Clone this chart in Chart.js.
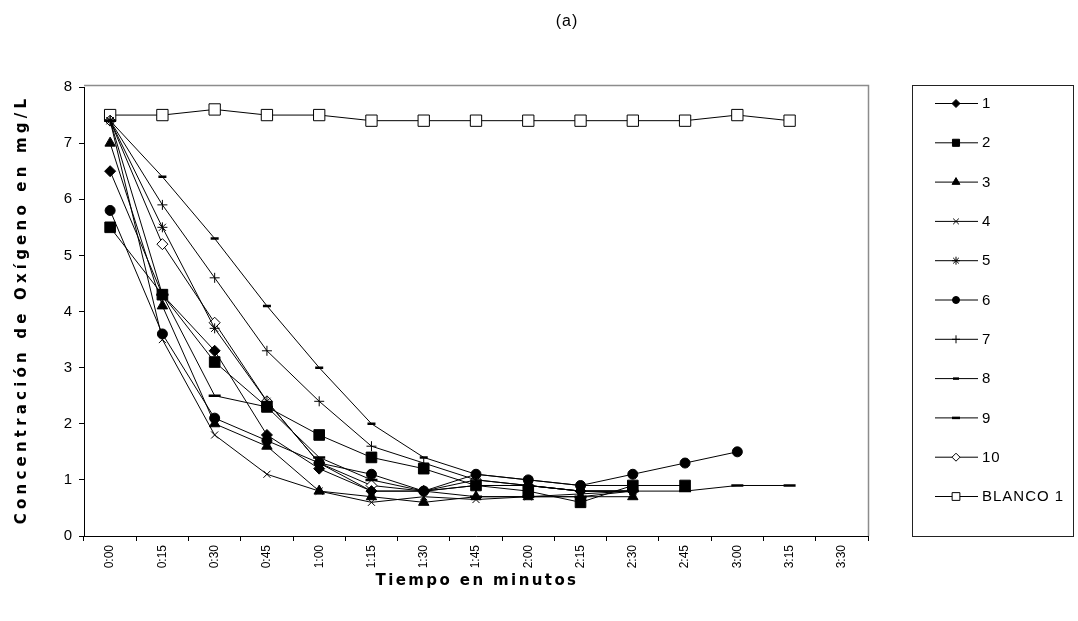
<!DOCTYPE html>
<html>
<head>
<meta charset="utf-8">
<script src="https://cdn.jsdelivr.net/npm/chart.js@4"></script>
<style>
  html, body { margin: 0; padding: 0; background: #fff; }
  #wrap { width: 1078px; height: 621px; position: relative; }
</style>
</head>
<body>
<div id="wrap"><canvas id="chart" width="1078" height="621"></canvas></div>
<script>
// tiempos (categorias del eje x)
const tiempos = ['0:00', '0:15', '0:30', '0:45', '1:00', '1:15', '1:30', '1:45',
  '2:00', '2:15', '2:30', '2:45', '3:00', '3:15', '3:30'];

// concentracion de oxigeno, mg/L
const serie1 = [6.5, 4.3, 3.3, 1.8, 1.2, 0.8, 0.8, 0.9, 0.9, 0.8, 0.8];
const serie2 = [5.5, 4.3, 3.1, 2.3, 1.8, 1.4, 1.2, 0.9, 0.8, 0.6, 0.9, 0.9];
const serie3 = [7.0, 4.1, 2.0, 1.6, 0.8, 0.7, 0.6, 0.7, 0.7, 0.7, 0.7];
const serie4 = [7.4, 3.5, 1.8, 1.1, 0.8, 0.6, 0.7, 0.65, 0.7, 0.75, 0.8];
const serie5 = [7.4, 5.5, 3.7, 2.4, 1.3, 0.8, 0.8, 0.9, 0.9, 0.8, 0.8];
const serie6 = [5.8, 3.6, 2.1, 1.7, 1.3, 1.1, 0.8, 1.1, 1.0, 0.9, 1.1, 1.3, 1.5];
const serie7 = [7.4, 5.9, 4.6, 3.3, 2.4, 1.6, 1.3, 1.0, 0.9, 0.8, 0.8];
const serie8 = [7.4, 6.4, 5.3, 4.1, 3.0, 2.0, 1.4, 1.1, 1.0, 0.9, 0.9];
const serie9 = [7.4, 4.3, 2.5, 2.3, 1.4, 1.0, 0.8, 0.7, 0.7, 0.7, 0.8, 0.8, 0.9, 0.9];
const serie10 = [7.4, 5.2, 3.8, 2.4, 1.3, 0.9, 0.8, 1.0, 0.9, 0.8, 0.8];
const blanco1 = [7.5, 7.5, 7.6, 7.5, 7.5, 7.4, 7.4, 7.4, 7.4, 7.4, 7.4, 7.4, 7.5, 7.4];

const yTicks = [0, 1, 2, 3, 4, 5, 6, 7, 8];

const FONT = "'Liberation Sans', Arial, sans-serif";
const TITLE_FONT = "'DejaVu Sans', Verdana, sans-serif";

function serie(label, data, style, radius, fill, legendRadius, bw) {
  return {
    label: label,
    data: data,
    borderColor: '#000',
    borderWidth: 1,
    tension: 0,
    fill: false,
    pointStyle: style,
    pointRadius: radius,
    pointBackgroundColor: fill,
    pointBorderColor: '#000',
    pointBorderWidth: bw || 1,
    legendRadius: legendRadius
  };
}

const datasets = [
  serie('1', serie1, 'rectRot', 5.5, '#000', 4),
  serie('2', serie2, 'rect', 7.5, '#000', 5),
  serie('3', serie3, 'triangle', 6, '#000', 4.5),
  serie('4', serie4, 'crossRot', 5, '#000', 4),
  serie('5', serie5, 'star', 5, '#000', 4),
  serie('6', serie6, 'circle', 5, '#000', 3.5),
  serie('7', serie7, 'cross', 5, '#000', 4),
  serie('8', serie8, 'line', 4, '#000', 3, 2.5),
  serie('9', serie9, 'line', 6, '#000', 4, 2.5),
  serie('10', serie10, 'rectRot', 5.5, '#fff', 4),
  serie('BLANCO 1', blanco1, 'rect', 8, '#fff', 5.5)
];

// leyenda, titulos y marco al estilo Excel
const excelLook = {
  id: 'excelLook',
  beforeDraw(chart) {
    chart.ctx.letterSpacing = '0px';
  },
  afterDraw(chart) {
    const ctx = chart.ctx;
    const a = chart.chartArea;
    ctx.save();
    // marco del area de trazado
    ctx.strokeStyle = '#8c8c8c';
    ctx.lineWidth = 1.5;
    ctx.beginPath();
    ctx.moveTo(a.left, a.top - 1.5);
    ctx.lineTo(a.right + 0.5, a.top - 1.5);
    ctx.lineTo(a.right + 0.5, a.bottom);
    ctx.stroke();

    ctx.fillStyle = '#000';
    ctx.textAlign = 'center';
    ctx.textBaseline = 'middle';

    // titulo
    ctx.letterSpacing = '1px';
    ctx.font = '16px ' + FONT;
    ctx.fillText('(a)', 567, 22);

    // titulos de ejes
    ctx.font = 'bold 15px ' + TITLE_FONT;
    ctx.letterSpacing = '2.4px';
    ctx.fillText('Tiempo en minutos', (a.left + a.right) / 2 + 1, 581);
    ctx.save();
    ctx.translate(22, (a.top + a.bottom) / 2);
    ctx.rotate(-Math.PI / 2);
    ctx.letterSpacing = '4.2px';
    ctx.fillText('Concentración de Oxígeno en mg/L', 2, 0);
    ctx.restore();

    // leyenda
    ctx.strokeStyle = '#222';
    ctx.lineWidth = 1;
    ctx.strokeRect(912.5, 85.5, 161, 451);
    ctx.font = '15px ' + FONT;
    ctx.letterSpacing = '1px';
    ctx.textAlign = 'left';
    chart.data.datasets.forEach(function (ds, i) {
      const y = 103 + i * 39.3;
      ctx.strokeStyle = '#000';
      ctx.lineWidth = 1;
      ctx.beginPath();
      ctx.moveTo(935, y + 0.5);
      ctx.lineTo(978, y + 0.5);
      ctx.stroke();
      ctx.fillStyle = ds.pointBackgroundColor;
      ctx.strokeStyle = '#000';
      ctx.lineWidth = ds.pointBorderWidth;
      Chart.helpers.drawPoint(ctx, {
        pointStyle: ds.pointStyle,
        radius: ds.legendRadius,
        rotation: 0,
        borderWidth: ds.pointBorderWidth
      }, 956, y + 0.5);
      ctx.fillStyle = '#000';
      ctx.fillText(ds.label, 982, y + 1);
    });
    ctx.restore();
  }
};

new Chart(document.getElementById('chart'), {
  type: 'line',
  data: { labels: tiempos, datasets: datasets },
  options: {
    responsive: false,
    animation: false,
    layout: { padding: { top: 87, right: 210, left: 0, bottom: 0 } },
    plugins: {
      legend: { display: false },
      tooltip: { enabled: false },
      title: { display: false }
    },
    scales: {
      x: {
        type: 'category',
        offset: true,
        grid: {
          display: true, offset: true, drawOnChartArea: false,
          drawTicks: true, tickLength: 5, color: '#000'
        },
        border: { display: true, color: '#000', width: 1 },
        ticks: {
          color: '#000', font: { family: FONT, size: 12 },
          minRotation: 90, maxRotation: 90, padding: 4, autoSkip: false
        },
        afterFit(scale) { scale.height = 85; }
      },
      y: {
        min: 0,
        max: 8,
        afterBuildTicks(scale) { scale.ticks = yTicks.map(function (v) { return { value: v }; }); },
        grid: {
          display: true, drawOnChartArea: false,
          drawTicks: true, tickLength: 5, color: '#000'
        },
        border: { display: true, color: '#000', width: 1 },
        ticks: { color: '#000', font: { family: FONT, size: 15 }, padding: 7 },
        afterFit(scale) { scale.width = 84; }
      }
    }
  },
  plugins: [excelLook]
});
</script>
</body>
</html>
